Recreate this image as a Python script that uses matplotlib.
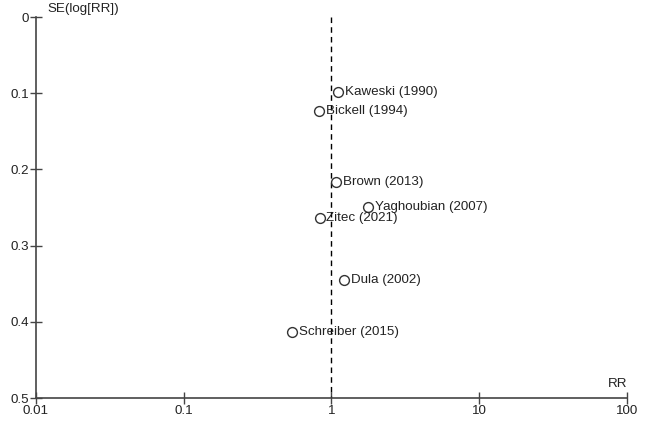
import numpy as np
import matplotlib
matplotlib.use("Agg")
import matplotlib.pyplot as plt

plt.rcParams['font.family'] = ['Liberation Sans', 'DejaVu Sans']

# study data
studies = ["Kaweski (1990)", "Bickell (1994)", "Brown (2013)", "Yaghoubian (2007)",
           "Zitec (2021)", "Dula (2002)", "Schreiber (2015)"]
rr = [1.11, 0.82, 1.08, 1.78, 0.83, 1.21, 0.54]
se = [0.098, 0.123, 0.217, 0.249, 0.264, 0.345, 0.413]
pooled_rr = 1.0

xticks = [0.01, 0.1, 1, 10, 100]
xticklabels = ["0.01", "0.1", "1", "10", "100"]
yticks = [0, 0.1, 0.2, 0.3, 0.4, 0.5]
yticklabels = ["0", "0.1", "0.2", "0.3", "0.4", "0.5"]

fig = plt.figure(figsize=(6.47, 4.21), dpi=100)
ax = fig.add_axes([0.0556, 0.0546, 0.9134, 0.905])

ax.set_xscale("log")
ax.set_xlim(0.01, 100)
ax.set_ylim(0.5, 0)

ax.plot([pooled_rr, pooled_rr], [0, 0.5], color="black", lw=1, ls=(0, (4, 3)))
ax.scatter(rr, se, s=50, facecolors="white", edgecolors="#333333", linewidths=1.0, zorder=3)
for name, x, y in zip(studies, rr, se):
    ax.annotate(name, (x, y), xytext=(5, 0), textcoords="offset points",
                va="center", ha="left", fontsize=9.6, color="#222222")

ax.set_xticks(xticks)
ax.set_xticklabels(xticklabels)
ax.xaxis.set_minor_locator(matplotlib.ticker.NullLocator())
ax.set_yticks(yticks)
ax.set_yticklabels(yticklabels)

for side in ["top", "right"]:
    ax.spines[side].set_visible(False)
for side in ["left", "bottom"]:
    ax.spines[side].set_color("#444444")
    ax.spines[side].set_linewidth(1.2)
ax.tick_params(direction="inout", length=8, width=1, colors="#444444",
               labelcolor="#222222", labelsize=9.6, pad=1)

ax.text(0.012, -0.003, "SE(log[RR])", ha="left", va="bottom", fontsize=9.6, color="#222222")
ax.text(100, 0.49, "RR", ha="right", va="bottom", fontsize=9.6, color="#222222",
        transform=ax.transData)
ax.patch.set_visible(False)

fig.savefig("out.png", dpi=100)
